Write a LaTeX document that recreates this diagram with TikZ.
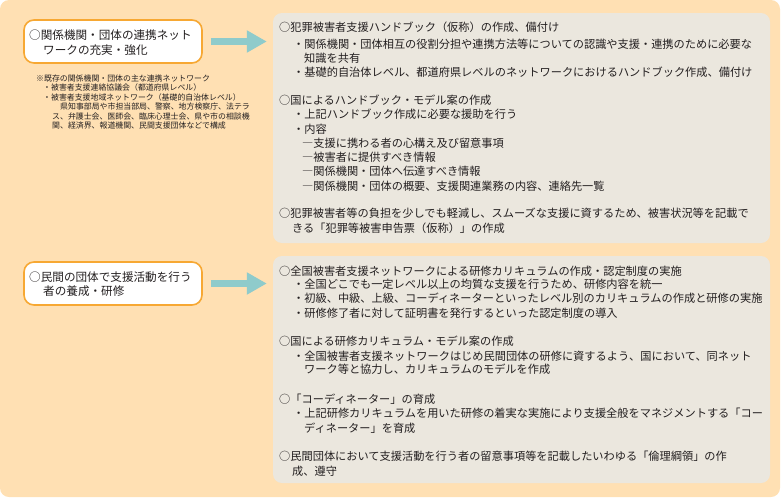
\documentclass[tikz,border=0pt]{standalone}
\usepackage{fontspec}
\newfontfamily\jp{Noto Sans CJK JP}
\usetikzlibrary{arrows.meta}
\definecolor{peach}{HTML}{FFE0B3}
\definecolor{grayfill}{HTML}{EBE7DE}
\definecolor{tealc}{HTML}{8FCBCB}
\definecolor{orangec}{HTML}{F7A833}
\definecolor{txtc}{HTML}{231F20}
\tikzset{
  peachbg/.style={fill=peach, rounded corners=9pt},
  graybox/.style={fill=grayfill, rounded corners=9pt, inner sep=0pt},
  whitebox/.style={fill=white, draw=orangec, line width=1.6pt, rounded corners=10pt, inner sep=0pt},
  bigarrow/.style={draw=tealc, line width=7pt, -{Triangle[length=20pt,width=21pt]}},
  lnbig/.style={anchor=west, inner sep=0pt, text height=10.2pt, text depth=1.4pt, text=txtc, font=\jp\fontsize{11.6}{13}\selectfont},
  ln/.style={anchor=west, inner sep=0pt, text height=9.9pt, text depth=1.3pt, text=txtc, font=\jp\fontsize{11.2}{13}\selectfont},
  lnsmall/.style={anchor=west, inner sep=0pt, text height=7pt, text depth=0.9pt, text=txtc, font=\jp\fontsize{7.9}{9}\selectfont},
}
\begin{document}
\begin{tikzpicture}[x=1pt,y=-1pt]
\useasboundingbox (0,0) rectangle (782,498);
\path[peachbg] (0,0) rectangle (780,497);
% boxes
\node[graybox, minimum width=497pt, minimum height=230pt] (g1) at (521.5,128) {};
\node[graybox, minimum width=497pt, minimum height=227pt] (g2) at (521.5,369.5) {};
\node[whitebox, minimum width=178pt, minimum height=43pt] (w1) at (113,41.5) {};
\node[whitebox, minimum width=178pt, minimum height=43pt] (w2) at (113,283.5) {};
% arrows
\draw[bigarrow, shorten <=8pt, shorten >=6pt] (w1.east) -- (w1.east -| g1.west);
\draw[bigarrow, shorten <=8pt, shorten >=6pt] (w2.east) -- (w2.east -| g2.west);
% left box texts
\node[lnbig] (wa1) at (29,35) {○関係機関・団体の連携ネット};
\node[lnbig] (wa2) at (43,50) {ワークの充実・強化};
\node[lnbig] (wb1) at (29,277) {○民間の団体で支援活動を行う};
\node[lnbig] (wb2) at (43,291) {者の養成・研修};
% note
\foreach \yy/\xx/\txt [count=\i] in {
  78/36/※既存の関係機関・団体の主な連携ネットワーク,
  87/43/・被害者支援連絡協議会（都道府県レベル）,
  97/43/・被害者支援地域ネットワーク（基礎的自治体レベル）,
  106.5/60/県知事部局や市担当部局、警察、地方検察庁、法テラ,
  116/52/ス、弁護士会、医師会、臨床心理士会、県や市の相談機,
  125.5/52/関、経済界、報道機関、民間支援団体などで構成}
  {\node[lnsmall] (n\i) at (\xx,\yy) {\txt};}
% right box 1
\foreach \yy/\xx/\txt [count=\i] in {
  27/279/○犯罪被害者支援ハンドブック（仮称）の作成、備付け,
  44/293/・関係機関・団体相互の役割分担や連携方法等についての認識や支援・連携のために必要な,
  58/304/知識を共有,
  72/293/・基礎的自治体レベル、都道府県レベルのネットワークにおけるハンドブック作成、備付け,
  100/279/○国によるハンドブック・モデル案の作成,
  114/293/・上記ハンドブック作成に必要な援助を行う,
  129/293/・内容,
  143/302/―支援に携わる者の心構え及び留意事項,
  157/302/―被害者に提供すべき情報,
  171/302/―関係機関・団体へ伝達すべき情報,
  186/302/―関係機関・団体の概要、支援関連業務の内容、連絡先一覧,
  213/279/○犯罪被害者等の負担を少しでも軽減し、スムーズな支援に資するため、被害状況等を記載で,
  228/292/きる「犯罪等被害申告票（仮称）」の作成}
  {\node[ln] (ra\i) at (\xx,\yy) {\txt};}
% right box 2
\foreach \yy/\xx/\txt [count=\i] in {
  271/279/○全国被害者支援ネットワークによる研修カリキュラムの作成・認定制度の実施,
  284/293/・全国どこでも一定レベル以上の均質な支援を行うため、研修内容を統一,
  298/293/・初級、中級、上級、コーディネーターといったレベル別のカリキュラムの作成と研修の実施,
  313/293/・研修修了者に対して証明書を発行するといった認定制度の導入,
  341/279/○国による研修カリキュラム・モデル案の作成,
  356/293/・全国被害者支援ネットワークはじめ民間団体の研修に資するよう、国において、同ネット,
  369/304/ワーク等と協力し、カリキュラムのモデルを作成,
  399/279/○「コーディネーター」の育成,
  413/293/・上記研修カリキュラムを用いた研修の着実な実施により支援全般をマネジメントする「コー,
  428/304/ディネーター」を育成,
  456/279/○民間団体において支援活動を行う者の留意事項等を記載したいわゆる「倫理綱領」の作,
  471/292/成、遵守}
  {\node[ln] (rb\i) at (\xx,\yy) {\txt};}
\end{tikzpicture}
\end{document}
